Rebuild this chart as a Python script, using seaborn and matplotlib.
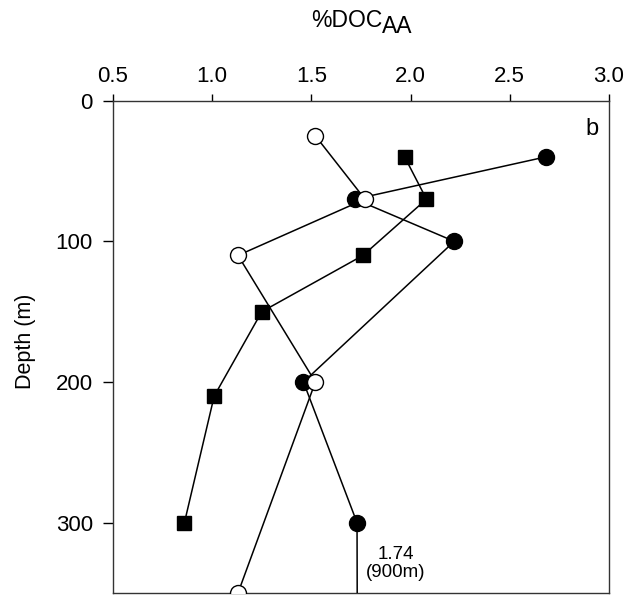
import matplotlib
matplotlib.use("Agg")
import matplotlib.pyplot as plt
import seaborn as sns

# --- data ---
filled_circle_x = [2.68, 1.72, 2.22, 1.46, 1.73, 1.74]
filled_circle_depth = [40, 70, 100, 200, 300, 900]

open_circle_x = [1.52, 1.77, 1.13, 1.52, 1.13]
open_circle_depth = [25, 70, 110, 200, 350]

square_x = [1.97, 2.08, 1.76, 1.25, 1.01, 0.86]
square_depth = [40, 70, 110, 150, 210, 300]

x_ticks = [0.5, 1.0, 1.5, 2.0, 2.5, 3.0]
y_ticks = [0, 100, 200, 300]

sns.set_theme(style="ticks")
plt.rcParams["font.family"] = ["Liberation Sans", "DejaVu Sans"]
plt.rcParams["text.color"] = "black"
plt.rcParams["axes.labelcolor"] = "black"
plt.rcParams["xtick.color"] = "black"
plt.rcParams["ytick.color"] = "black"

W, H = 629, 598
fig = plt.figure(figsize=(W / 100, H / 100), dpi=100)
ax = fig.add_axes([113 / W, 1 - 593 / H, (609 - 113) / W, (593 - 100.7) / H])

common = dict(sort=False, estimator=None, color="black", linewidth=1.1, ax=ax)

sns.lineplot(x=filled_circle_x, y=filled_circle_depth, marker="o", markersize=11.5,
             markerfacecolor="black", markeredgecolor="black", markeredgewidth=1, zorder=3, **common)
sns.lineplot(x=square_x, y=square_depth, marker="s", markersize=10.5,
             markerfacecolor="black", markeredgecolor="black", markeredgewidth=1, zorder=3, **common)
sns.lineplot(x=open_circle_x, y=open_circle_depth, marker="o", markersize=11.5,
             markerfacecolor="white", markeredgecolor="black", markeredgewidth=1, zorder=4, **common)

ax.set_xlim(0.5, 3.0)
ax.set_ylim(350, 0)
ax.set_xticks(x_ticks)
ax.set_xticklabels([f"{v:.1f}" for v in x_ticks])
ax.set_yticks(y_ticks)
ax.xaxis.tick_top()
ax.tick_params(axis="x", which="both", top=True, bottom=False, labeltop=True, labelbottom=False,
               direction="out", length=5, width=1, pad=5, labelsize=16, colors="black")
ax.tick_params(axis="y", direction="out", length=7.5, width=1, pad=7, labelsize=16, colors="black")
for s in ax.spines.values():
    s.set_visible(True)
    s.set_color("#333333")
    s.set_linewidth(1)

ax.set_xlabel("")
ax.set_ylabel("Depth (m)", fontsize=15.5, va="center")
ax.yaxis.set_label_coords(-0.177, 0.512)

# x axis title with subscript
fig.text(382 / W, 1 - 27 / H, "%DOC", ha="right", va="baseline", fontsize=16.5)
fig.text(382 / W, 1 - 33 / H, "AA", ha="left", va="baseline", fontsize=16.5)

ax.text(0.966, 0.943, "b", transform=ax.transAxes, ha="center", va="center", fontsize=17)
ax.text(1.926, 329, "1.74\n(900m)", ha="center", va="center", fontsize=13.5, linespacing=1.1)

fig.savefig("out.png", dpi=100)
